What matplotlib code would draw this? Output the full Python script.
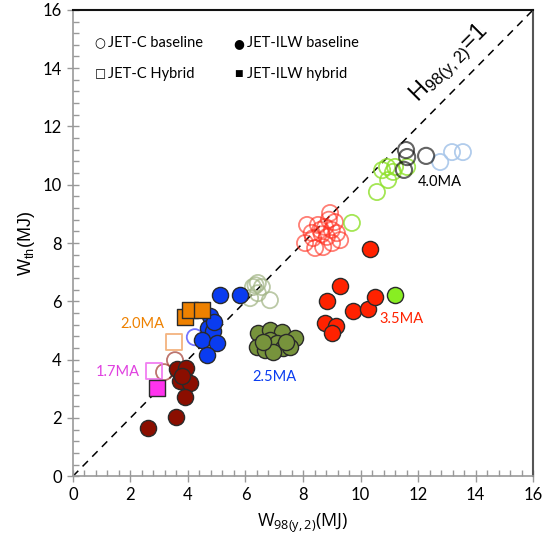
import matplotlib
matplotlib.use("Agg")
import matplotlib.pyplot as plt
import numpy as np

# ---------------- data ----------------
# JET-C baseline (open circles)
c40_x = [11.58, 11.62, 12.28, 11.51]
c40_y = [11.19, 10.95, 10.99, 10.51]
c40b_x = [12.77, 13.18, 13.56]          # light blue
c40b_y = [10.78, 11.12, 11.12]
cgr_x = [10.57, 10.96, 10.92, 11.20, 11.62, 11.13, 9.70, 10.75]
cgr_y = [9.75, 10.16, 10.61, 10.61, 10.61, 10.44, 8.69, 10.50]
c35_x = [8.14, 8.07, 8.42, 8.70, 9.01, 8.94, 9.11, 8.77, 9.18, 8.52, 8.83,
         9.29, 8.35, 9.00, 8.30, 8.65, 8.90, 8.60]
c35_y = [8.62, 8.00, 7.83, 7.86, 8.00, 9.03, 8.72, 8.55, 8.34, 8.62, 8.21,
         8.10, 8.17, 8.45, 8.35, 8.30, 8.80, 8.45]
col_x = [6.26, 6.43, 6.57, 6.43, 6.85, 6.16, 6.35]   # light olive
col_y = [6.49, 6.63, 6.49, 6.28, 6.04, 6.11, 6.55]
c25_x = [4.24]
c25_y = [4.77]
c17_x = [3.55, 3.17]
c17_y = [3.98, 3.57]

# JET-C hybrid (open squares)
ch20_x = [3.51]
ch20_y = [4.60]
ch17_x = [2.82]
ch17_y = [3.60]

# JET-ILW baseline (filled circles)
i17_x = [3.62, 3.93, 3.72, 4.07, 3.90, 3.58, 2.61, 3.80]
i17_y = [3.67, 3.71, 3.26, 3.19, 2.71, 2.03, 1.65, 3.45]
i25_x = [5.11, 5.81, 4.77, 4.70, 4.87, 4.49, 5.01, 4.66, 4.90]
i25_y = [6.21, 6.21, 5.49, 5.08, 4.98, 4.67, 4.57, 4.15, 5.29]
iol_x = [6.43, 6.85, 7.27, 7.72, 6.40, 6.85, 7.10, 6.68, 7.30, 7.55, 6.96, 6.60, 7.40]
iol_y = [4.91, 5.01, 4.94, 4.74, 4.43, 4.67, 4.57, 4.33, 4.39, 4.43, 4.26, 4.60, 4.60]
i35_x = [9.29, 8.83, 9.74, 10.26, 10.50, 8.77, 9.15, 9.01, 10.33]
i35_y = [6.52, 6.01, 5.67, 5.73, 6.15, 5.25, 5.15, 4.91, 7.79]
i40_x = [11.20]
i40_y = [6.21]

# JET-ILW hybrid (filled squares)
ih20_x = [3.90, 4.07, 4.49]
ih20_y = [5.46, 5.70, 5.70]
ih17_x = [2.92]
ih17_y = [3.02]

# ---------------- plot ----------------
fig = plt.figure(figsize=(5.44, 5.48), dpi=100)
ax = fig.add_axes([0.134, 0.131, 0.846, 0.851])
ax.set_xlim(0, 16)
ax.set_ylim(0, 16)

ax.plot([0, 16], [0, 16], ls=(0, (5, 4)), color="black", lw=1.1, zorder=1)

S = 135
def oc(x, y, color, alpha=1.0, lw=1.3):
    ax.scatter(x, y, s=S, facecolors="none", edgecolors=color, linewidths=lw,
               alpha=alpha, zorder=2)

def fc(x, y, color, marker="o"):
    ax.scatter(x, y, s=S, c=color, marker=marker, edgecolors="#2a2a2a",
               linewidths=1.0, zorder=3)

oc(c35_x, c35_y, "#ff2a1a", alpha=0.6)
oc(cgr_x, cgr_y, "#8ee02a", alpha=0.8)
oc(c40b_x, c40b_y, "#a9c7ea", alpha=0.9)
oc(c40_x, c40_y, "#111111", alpha=0.65, lw=1.5)
oc(col_x, col_y, "#a5b789", alpha=0.75)
oc(c25_x, c25_y, "#3a3aff", alpha=0.7)
oc(c17_x, c17_y, "#a03a30", alpha=0.7)
ax.scatter(ch20_x, ch20_y, s=S, marker="s", facecolors="none",
           edgecolors="#f0a060", linewidths=1.3, alpha=0.8, zorder=2)
ax.scatter(ch17_x, ch17_y, s=S, marker="s", facecolors="none",
           edgecolors="#f070f0", linewidths=1.3, alpha=0.9, zorder=2)

fc(i17_x, i17_y, "#8b0e00")
fc(iol_x, iol_y, "#77933c")
fc(i25_x, i25_y, "#0a3cf0")
fc(i35_x, i35_y, "#ff2200")
fc(i40_x, i40_y, "#88ee22")
fc(ih20_x, ih20_y, "#ee8100", marker="s")
fc(ih17_x, ih17_y, "#ff33ee", marker="s")

# annotations
lab = dict(fontsize=10.5, family="Lato")
ax.text(12.0, 9.95, "4.0MA", color="black", **lab)
ax.text(10.65, 5.25, "3.5MA", color="#ff2200", **lab)
ax.text(6.25, 3.25, "2.5MA", color="#0a3cf0", **lab)
ax.text(1.65, 5.1, "2.0MA", color="#ee8100", **lab)
ax.text(0.8, 3.45, "1.7MA", color="#e040e0", **lab)
ax.text(12.0, 12.8, r"$\mathregular{H_{98(y,2)}}$=1", rotation=45,
        fontsize=17, family="Liberation Sans", rotation_mode="anchor",
        ha="left", va="baseline")

# legend texts
lg = dict(fontsize=10.5, family="Lato", va="center")
sym = dict(family="DejaVu Sans", va="center", ha="center")
ax.text(0.95, 14.85, "○", fontsize=9, **sym)
ax.text(1.22, 14.85, "JET-C baseline", **lg)
ax.text(5.75, 14.85, "●", fontsize=9, **sym)
ax.text(6.05, 14.85, "JET-ILW baseline", **lg)
ax.text(0.95, 13.8, "□", fontsize=8.5, **sym)
ax.text(1.22, 13.8, "JET-C Hybrid", **lg)
ax.text(5.75, 13.8, "■", fontsize=6.5, **sym)
ax.text(6.05, 13.8, "JET-ILW hybrid", **lg)

# axes styling
ax.set_xticks(np.arange(0, 17, 2))
ax.set_yticks(np.arange(0, 17, 2))
ax.set_xticks(np.arange(0, 16.01, 0.4), minor=True)
ax.set_yticks(np.arange(0, 16.01, 0.4), minor=True)
ax.tick_params(which="major", direction="inout", length=8, width=1,
               color="#999999", labelsize=12, pad=4)
ax.tick_params(which="minor", direction="in", length=4, width=1, color="#999999")
ax.tick_params(top=False, right=False, which="both")
for t in ax.get_xticklabels() + ax.get_yticklabels():
    t.set_family("Lato")
for s in ["left", "bottom"]:
    ax.spines[s].set_color("#999999")
    ax.spines[s].set_linewidth(1.2)
ax.spines["top"].set_color("#111111")
ax.spines["top"].set_linewidth(1.5)
ax.spines["right"].set_color("#555555")
ax.spines["right"].set_linewidth(1.5)

ax.set_xlabel(r"$\mathregular{W_{98(y,2)}}$(MJ)", fontsize=13, family="Open Sans", labelpad=6)
ax.set_ylabel(r"$\mathregular{W_{th}}$(MJ)", fontsize=13, family="Liberation Sans", labelpad=4)

fig.savefig("out.png", dpi=100)
